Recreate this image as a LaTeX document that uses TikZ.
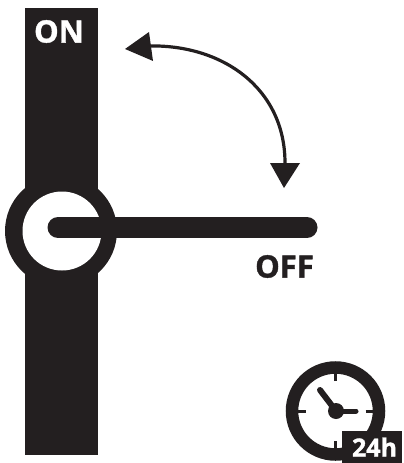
\documentclass[tikz,border=0pt]{standalone}
\usepackage{fontspec}
\usetikzlibrary{calc}
\setmainfont{Open Sans}[BoldFeatures={FakeBold=1.2}]
\definecolor{ink}{HTML}{231F20}
\tikzset{
  lbl/.style={font=\bfseries\fontsize{31}{31}\selectfont, text=ink, inner sep=0pt},
  curve/.style={draw=ink, line width=3.2pt},
  tipshape/.style={fill=ink, draw=none}
}
\begin{document}
\begin{tikzpicture}[x=1pt,y=-1pt]
\useasboundingbox (0,0) rectangle (404,463);
\fill[ink] (24.5,8) rectangle (97.5,454.5);
\fill[ink] (61,231) circle (56);
\fill[white] (62,231) circle (39.5);
\coordinate (handleL) at (58,227.5);
\coordinate (handleR) at (307,227.5);
\draw[ink, line width=21pt, line cap=round] (handleL) -- (handleR);
\node[lbl, text=white] (on) at (59,31.5) {ON};
\node[lbl] (off) at (284.5,266.5) {OFF};
\coordinate (arcA) at (148,46);
\coordinate (arcB) at (285,163);
\draw[curve] (arcA) .. controls (222,44) and (285,88) .. (arcB);
\fill[tipshape] (125,49) -- (149,32) -- (153,61) -- cycle;
\fill[tipshape] (270,163) -- (300,163) -- (284,188) -- cycle;
% clock
\coordinate (clk) at (335.5,411);
\draw[ink, line width=12.5pt] (clk) circle (43.5);
\foreach \a in {0,90,180,270}
  \draw[ink, line width=3pt] ($(clk)+(\a:30)$) -- ($(clk)+(\a:37.5)$);
\fill[ink] (336,411) circle (8);
\draw[ink, line width=6pt, line cap=round] (336,411) -- (320,390);
\draw[ink, line width=5pt, line cap=round] (336,411) -- (356,411);
\fill[ink] (342,431) rectangle (402,463);
\node[font=\bfseries\fontsize{25}{25}\selectfont, text=white, inner sep=0pt] (tf) at (374.5,447) {24h};
\end{tikzpicture}
\end{document}
